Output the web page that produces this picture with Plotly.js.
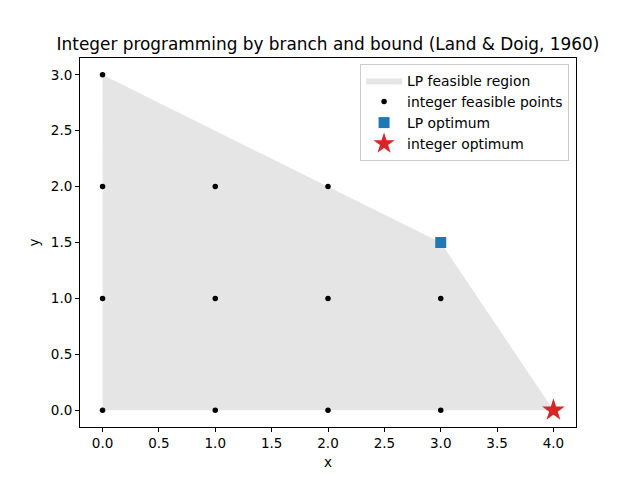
<!DOCTYPE html>
<html><head><meta charset="utf-8">
<script src="https://cdn.plot.ly/plotly-3.0.1.min.js"></script>
<style>body{margin:0}#c{width:640px;height:480px}</style>
</head><body><div id="c"></div>
<script>
const regionX = [0, 0, 3, 4, 0];
const regionY = [0, 3, 1.5, 0, 0];
const intX = [0,1,2,3,4, 0,1,2,3, 0,1,2, 0];
const intY = [0,0,0,0,0, 1,1,1,1, 2,2,2, 3];
const lpOpt = {x:[3], y:[1.5]};
const intOpt = {x:[4], y:[0]};
const tickVals = [0,0.5,1,1.5,2,2.5,3,3.5,4];
const tickText = ['0.0','0.5','1.0','1.5','2.0','2.5','3.0','3.5','4.0'];
const yTickVals = [0,0.5,1,1.5,2,2.5,3];
const yTickText = ['0.0','0.5','1.0','1.5','2.0','2.5','3.0'];

const traces = [
 {x:regionX, y:regionY, type:'scatter', mode:'lines', fill:'toself', fillcolor:'#e5e5e5', line:{width:0, color:'#e5e5e5'}, name:'LP feasible region'},
 {x:intX, y:intY, type:'scatter', mode:'markers', marker:{color:'black', size:5.5}, name:'integer feasible points'},
 {x:lpOpt.x, y:lpOpt.y, type:'scatter', mode:'markers', marker:{color:'#1f77b4', size:11, symbol:'square'}, name:'LP optimum'},
 {x:intOpt.x, y:intOpt.y, type:'scatter', mode:'markers', marker:{color:'#d62728', size:17, symbol:'star'}, name:'integer optimum'}
];
const axisCommon = {showgrid:false, zeroline:false, showline:true, mirror:true, linecolor:'black', linewidth:1, ticks:'outside', ticklen:4, tickcolor:'black', tickfont:{size:13.5, color:'black'}};
const layout = {
 width:640, height:480, paper_bgcolor:'white', plot_bgcolor:'white',
 font:{family:'DejaVu Sans', color:'black'},
 margin:{l:80, r:64, t:58, b:53},
 title:{text:'Integer programming by branch and bound (Land & Doig, 1960)', font:{size:16.9}, xref:'paper', x:0.5, xanchor:'center', y:0.908, yanchor:'middle'},
 xaxis:Object.assign({}, axisCommon, {range:[-0.2,4.2], tickvals:tickVals, ticktext:tickText, title:{text:'x', font:{size:13.5}, standoff:7}}),
 yaxis:Object.assign({}, axisCommon, {range:[-0.15,3.15], tickvals:yTickVals, ticktext:yTickText, title:{text:'y', font:{size:13.5}, standoff:8}}),
 showlegend:true,
 legend:{x:0.986, y:0.984, xanchor:'right', yanchor:'top', bgcolor:'rgba(255,255,255,0.8)', bordercolor:'#cccccc', borderwidth:1, font:{size:13.9}, tracegroupgap:0, itemwidth:36}
};
Plotly.newPlot('c', traces, layout, {displayModeBar:false});
</script></body></html>
